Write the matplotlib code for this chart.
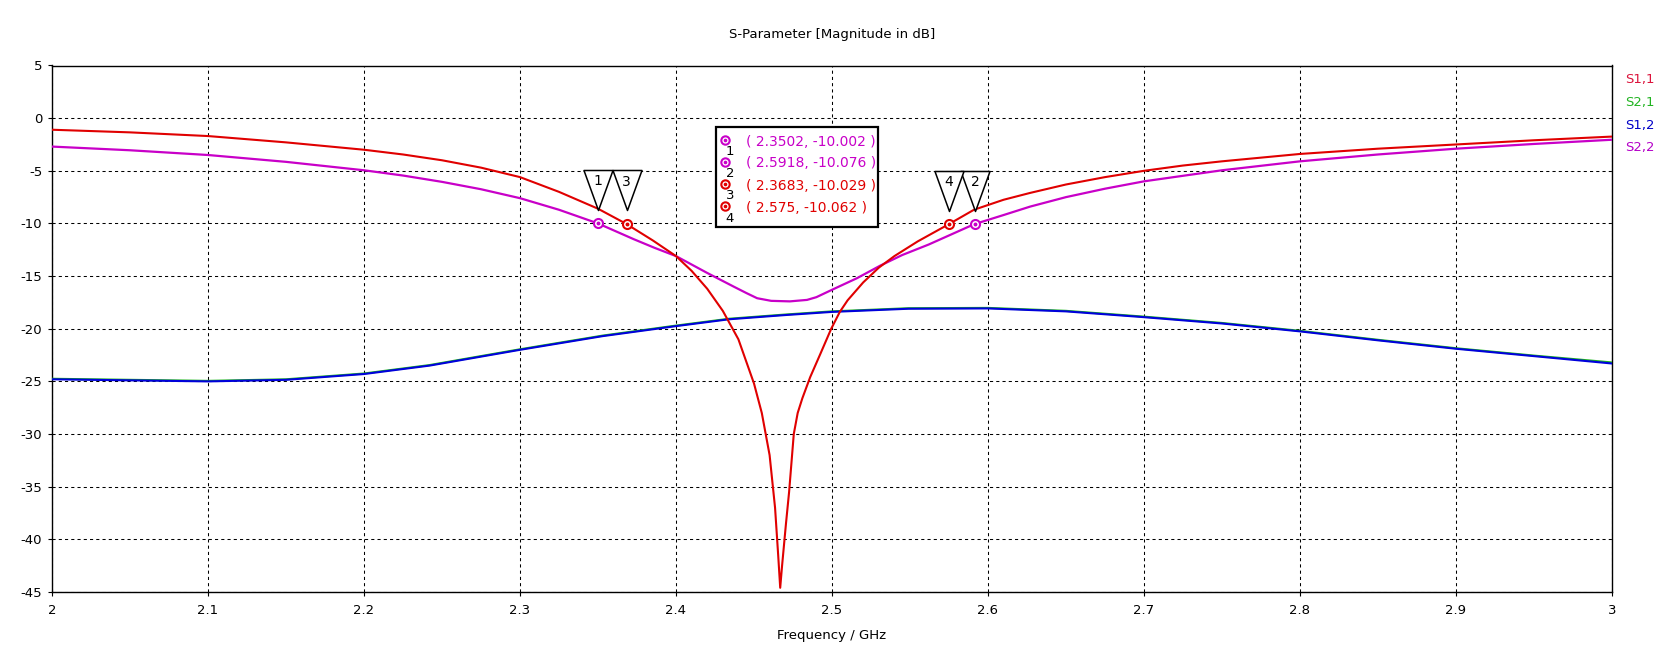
import matplotlib
matplotlib.use("Agg")
import matplotlib.pyplot as plt
import matplotlib.transforms as mtransforms
from matplotlib.path import Path
from matplotlib.patches import Rectangle
import numpy as np

# S1,1 (red)
f_s11 = [2.000, 2.050, 2.100, 2.150, 2.200, 2.225, 2.250, 2.275, 2.300, 2.325,
         2.350, 2.368, 2.385, 2.400, 2.410, 2.420, 2.430, 2.440, 2.450, 2.455,
         2.460, 2.4635, 2.4655, 2.4668, 2.468, 2.4705, 2.4725, 2.4755, 2.478,
         2.481, 2.486, 2.4925, 2.4995, 2.505, 2.510, 2.520, 2.530, 2.540, 2.555,
         2.575, 2.591, 2.610, 2.627, 2.650, 2.675, 2.700, 2.725, 2.750, 2.800,
         2.850, 2.900, 2.950, 3.000]
s11 = [-1.1, -1.35, -1.7, -2.3, -3.0, -3.45, -4.0, -4.7, -5.6, -7.0,
       -8.6, -10.03, -11.6, -13.1, -14.5, -16.2, -18.3, -21.0, -25.2, -28.0,
       -32.0, -37.0, -41.5, -44.6, -42.5, -38.5, -35.5, -30.0, -28.0,
       -26.6, -24.6, -22.4, -20.0, -18.4, -17.3, -15.6, -14.2, -13.1, -11.7,
       -10.06, -8.7, -7.75, -7.1, -6.3, -5.6, -5.0, -4.5, -4.1, -3.4,
       -2.9, -2.5, -2.1, -1.75]

# S2,2 (magenta)
f_s22 = [2.000, 2.050, 2.100, 2.150, 2.200, 2.225, 2.250, 2.275, 2.300, 2.325,
         2.350, 2.373, 2.386, 2.400, 2.420, 2.437, 2.445, 2.452, 2.461, 2.473,
         2.484, 2.490, 2.500, 2.516, 2.531, 2.545, 2.562, 2.591, 2.610, 2.627,
         2.650, 2.675, 2.700, 2.750, 2.800, 2.850, 2.900, 2.950, 3.000]
s22 = [-2.7, -3.05, -3.5, -4.15, -4.95, -5.45, -6.05, -6.75, -7.6, -8.7,
       -10.0, -11.5, -12.3, -13.1, -14.7, -16.0, -16.6, -17.1, -17.35, -17.4,
       -17.26, -17.0, -16.3, -15.2, -14.0, -13.0, -12.0, -10.08, -9.2, -8.4,
       -7.5, -6.7, -6.0, -4.95, -4.1, -3.45, -2.9, -2.45, -2.05]

# S2,1 (green) and S1,2 (blue)
f_trans = [2.000, 2.050, 2.100, 2.150, 2.200, 2.242, 2.300, 2.353, 2.400, 2.434,
           2.470, 2.500, 2.549, 2.600, 2.650, 2.700, 2.750, 2.800, 2.850, 2.900,
           2.950, 3.000]
s21 = [-24.75, -24.85, -24.95, -24.8, -24.25, -23.45, -21.95, -20.65, -19.7, -19.05,
       -18.65, -18.35, -18.05, -18.02, -18.3, -18.85, -19.45, -20.2, -21.05, -21.85,
       -22.55, -23.2]
s12 = [-24.8, -24.9, -25.0, -24.85, -24.3, -23.5, -22.0, -20.7, -19.75, -19.1,
       -18.7, -18.4, -18.1, -18.07, -18.35, -18.9, -19.5, -20.25, -21.1, -21.9,
       -22.6, -23.3]

# markers: id, frequency, value, trace
marker_ids = ["1", "2", "3", "4"]
marker_f = [2.3502, 2.5918, 2.3683, 2.575]
marker_val = [-10.002, -10.076, -10.029, -10.062]
marker_trace = ["S2,2", "S2,2", "S1,1", "S1,1"]

trace_names = ["S1,1", "S2,1", "S1,2", "S2,2"]
colors = {"S1,1": "#e00000", "S2,1": "#1db41d", "S1,2": "#0000dc", "S2,2": "#c800c8"}
legend_colors = {"S1,1": "#dc143c", "S2,1": "#22b422", "S1,2": "#0000c8", "S2,2": "#b400c8"}

W, H = 1680, 649
plt.rcParams["font.family"] = ["DejaVu Sans"]
plt.rcParams["axes.unicode_minus"] = False
fs = 9.5
fig = plt.figure(figsize=(W / 100, H / 100), dpi=100)
ax_l, ax_r, ax_t, ax_b = 52, 1612, 65.5, 592
ax = fig.add_axes([ax_l / W, 1 - ax_b / H, (ax_r - ax_l) / W, (ax_b - ax_t) / H])

ax.plot(f_trans, s21, color=colors["S2,1"], lw=1.5, zorder=3)
ax.plot(f_trans, s12, color=colors["S1,2"], lw=1.5, zorder=4)
ax.plot(f_s22, s22, color=colors["S2,2"], lw=1.6, zorder=5)
ax.plot(f_s11, s11, color=colors["S1,1"], lw=1.5, zorder=6)

ax.set_xlim(2, 3)
ax.set_ylim(-45, 5)
ax.set_xticks(np.arange(2, 3.01, 0.1))
ax.set_xticklabels(["2", "2.1", "2.2", "2.3", "2.4", "2.5", "2.6", "2.7", "2.8", "2.9", "3"])
ax.set_yticks(np.arange(-45, 5.1, 5))
ax.grid(True, color="black", linestyle=(0, (3, 3)), lw=0.75)
ax.tick_params(direction="out", length=3, width=0.8, labelsize=fs, color="black")
ax.tick_params(axis="x", pad=6)
ax.tick_params(axis="y", pad=4)
for s in ax.spines.values():
    s.set_linewidth(1.0)

ax.set_title("S-Parameter [Magnitude in dB]", fontsize=fs, pad=19.5)
ax.set_xlabel("Frequency / GHz", fontsize=fs, labelpad=8)

# marker triangles
tri = Path([(-14.5, 40), (14.5, 40), (0, 0), (-14.5, 40)],
           [Path.MOVETO, Path.LINETO, Path.LINETO, Path.CLOSEPOLY])
tri_tr = mtransforms.offset_copy(ax.transData, fig=fig, y=13.5, units="dots")
for mid, mf, mv, tr in zip(marker_ids, marker_f, marker_val, marker_trace):
    c = colors[tr]
    ax.plot([mf], [mv], marker="o", ms=6.5, mfc="white", mec=c, mew=1.5,
            zorder=8, clip_on=False)
    ax.plot([mf], [mv], marker="o", ms=1.8, mfc=c, mec=c, zorder=9)
    ax.plot([mf], [mv], marker=tri, ms=57.6, mfc="white", mec="black", mew=1.1,
            transform=tri_tr, zorder=10, clip_on=False)
    ax.annotate(mid, (mf, mv), xytext=(0, 42), textcoords="offset pixels",
                ha="center", va="center", fontsize=fs + 0.5, zorder=11)

# marker info box
def fx(px):
    return px / W


def fy(py):
    return 1 - py / H


fig.add_artist(Rectangle((fx(716), fy(227)), fx(878) - fx(716), fy(127) - fy(227),
                         transform=fig.transFigure, fc="white", ec="black", lw=1.6,
                         zorder=20))
row_y = [141.7, 163.5, 185.7, 208.5]
for mid, mf, mv, tr, ry in zip(marker_ids, marker_f, marker_val, marker_trace, row_y):
    c = colors[tr]
    fig.add_artist(plt.Line2D([fx(725)], [fy(ry - 2)], marker="o", ms=6, mfc="white",
                              mec=c, mew=1.5, transform=fig.transFigure, zorder=21))
    fig.add_artist(plt.Line2D([fx(725)], [fy(ry - 2)], marker="o", ms=1.6, mfc=c,
                              mec=c, transform=fig.transFigure, zorder=22))
    fig.text(fx(730), fy(ry + 10), mid, fontsize=fs, ha="center", va="center", zorder=22)
    fig.text(fx(746), fy(ry), "( %g, %.3f )" % (mf, mv), color=c, fontsize=10,
             ha="left", va="center", zorder=22)

# trace names on the right
for i, name in enumerate(trace_names):
    fig.text(fx(1625), fy(80 + i * 22.5), name, color=legend_colors[name],
             fontsize=fs, ha="left", va="center")

fig.savefig("out.png", dpi=100)
